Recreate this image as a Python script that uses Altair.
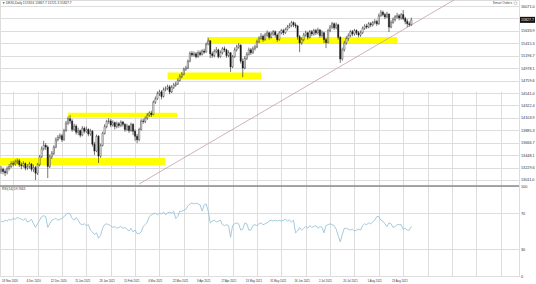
import altair as alt
import pandas as pd

# ---------------- data ----------------
date_labels = ["18 Nov 2020", "4 Dec 2020", "22 Dec 2020", "11 Jan 2021", "28 Jan 2021",
               "15 Feb 2021", "4 Mar 2021", "22 Mar 2021", "9 Apr 2021", "27 Apr 2021",
               "13 May 2021", "31 May 2021", "16 Jun 2021", "2 Jul 2021", "20 Jul 2021",
               "5 Aug 2021", "23 Aug 2021"]

open0 = 13170.0
closes = [
    13200, 13160, 13140, 13210, 13250, 13300, 13290, 13330, 13350, 13280,
    13260, 13300, 13220, 13250, 13290, 13200, 13230, 13130, 13280, 13420,
    13560, 13620, 13590, 13250, 13420, 13480, 13590, 13720, 13760, 13790,
    13720, 13880, 14010, 14090, 14050, 13900, 13960, 13850, 13880, 13800,
    13920, 13870, 13900, 13820, 13870, 13640, 13520, 13780, 13430, 13620,
    13830, 13950, 14040, 14050, 13980, 14020, 13950, 14000, 13970, 14030,
    13990, 13900, 13960, 13880, 13990, 13870, 13780, 13720, 13900, 14050,
    14040, 14100, 14150, 14190, 14160, 14380, 14440, 14530, 14560, 14480,
    14600, 14620, 14650, 14560, 14640, 14680, 14700, 14760, 14830, 14870,
    14960, 14980, 15100, 15240, 15210, 15230, 15180, 15250, 15220, 15280,
    15260, 15400, 15460, 15230, 15200, 15270, 15300, 15180, 15250, 15320,
    15300, 15200, 15250, 15000, 15180, 15300, 15350, 15380, 15100, 14980,
    15150, 15220, 15300, 15250, 15320, 15350, 15440, 15500, 15540, 15480,
    15560, 15600, 15520, 15580, 15620, 15560, 15480, 15600, 15640, 15600,
    15660, 15700, 15730, 15780, 15740, 15720, 15530, 15420, 15480, 15560,
    15600, 15520, 15620, 15580, 15640, 15600, 15650, 15550, 15600, 15480,
    15430, 15640, 15700, 15760, 15690, 15740, 15520, 15140, 15300, 15420,
    15500, 15550, 15620, 15580, 15640, 15600, 15560, 15600, 15680, 15720,
    15700, 15760, 15740, 15780, 15800, 15760, 15900, 15960, 15920, 15880,
    15930, 15700, 15780, 15830, 15880, 15900, 15860, 15920, 15850, 15800,
    15760, 15743.6, 15827.7]
highs = [
    13260, 13230, 13200, 13250, 13290, 13340, 13350, 13370, 13390, 13380,
    13320, 13340, 13320, 13290, 13330, 13310, 13280, 13260, 13310, 13450,
    13600, 13700, 13660, 13620, 13460, 13520, 13620, 13760, 13800, 13830,
    13820, 13910, 14050, 14130, 14150, 14080, 14000, 13990, 13930, 13900,
    13960, 13950, 13950, 13920, 13910, 13890, 13680, 13810, 13800, 13650,
    13860, 13990, 14070, 14100, 14080, 14060, 14040, 14040, 14030, 14060,
    14050, 14010, 14000, 13980, 14020, 14010, 13900, 13820, 13930, 14080,
    14090, 14130, 14190, 14220, 14230, 14410, 14480, 14570, 14600, 14590,
    14640, 14660, 14690, 14680, 14680, 14720, 14740, 14800, 14870, 14910,
    14990, 15020, 15130, 15270, 15280, 15270, 15260, 15290, 15290, 15310,
    15320, 15430, 15510, 15470, 15270, 15310, 15350, 15320, 15290, 15350,
    15360, 15320, 15290, 15260, 15210, 15340, 15390, 15420, 15400, 15150,
    15190, 15260, 15340, 15330, 15360, 15390, 15480, 15540, 15595, 15570,
    15600, 15640, 15620, 15620, 15650, 15640, 15590, 15630, 15670, 15670,
    15690, 15740, 15770, 15810, 15800, 15780, 15740, 15560, 15520, 15600,
    15640, 15620, 15650, 15650, 15670, 15670, 15690, 15670, 15640, 15620,
    15510, 15670, 15740, 15790, 15780, 15780, 15760, 15540, 15340, 15460,
    15540, 15590, 15650, 15650, 15670, 15660, 15630, 15640, 15710, 15750,
    15760, 15790, 15790, 15810, 15840, 15830, 15940, 16000, 15990, 15950,
    15970, 15940, 15820, 15870, 15910, 15950, 15930, 15950, 16000, 15880,
    15840, 15800, 15867.7]
lows = [
    13120, 13110, 13080, 13110, 13180, 13220, 13250, 13260, 13290, 13240,
    13200, 13230, 13180, 13190, 13210, 13160, 13150, 13010, 13100, 13250,
    13400, 13530, 13540, 13045, 13220, 13380, 13450, 13570, 13690, 13730,
    13680, 13700, 13860, 13980, 14000, 13860, 13870, 13810, 13800, 13760,
    13780, 13830, 13840, 13780, 13790, 13600, 13450, 13500, 13310, 13400,
    13600, 13810, 13920, 14000, 13940, 13950, 13900, 13920, 13930, 13940,
    13950, 13860, 13870, 13840, 13860, 13800, 13700, 13660, 13690, 13880,
    14000, 14010, 14070, 14120, 14120, 14150, 14350, 14420, 14490, 14430,
    14460, 14570, 14590, 14520, 14540, 14610, 14650, 14680, 14740, 14800,
    14850, 14930, 14960, 15080, 15180, 15180, 15150, 15160, 15190, 15200,
    15230, 15250, 15380, 15155, 15160, 15170, 15240, 15150, 15160, 15220,
    15260, 15160, 15170, 14910, 14980, 15160, 15270, 15320, 15060, 14820,
    14960, 15120, 15200, 15210, 15230, 15290, 15330, 15420, 15480, 15440,
    15460, 15530, 15480, 15500, 15550, 15520, 15440, 15460, 15570, 15560,
    15580, 15640, 15680, 15700, 15700, 15680, 15480, 15260, 15390, 15450,
    15530, 15480, 15500, 15540, 15550, 15560, 15570, 15510, 15520, 15420,
    15330, 15410, 15610, 15670, 15650, 15660, 15480, 15070, 15110, 15270,
    15390, 15460, 15520, 15540, 15550, 15560, 15520, 15530, 15580, 15650,
    15670, 15680, 15700, 15710, 15750, 15720, 15740, 15880, 15890, 15840,
    15860, 15615, 15680, 15760, 15800, 15850, 15820, 15830, 15820, 15750,
    15700, 15710, 15721.3]
rsi = [
    61, 60, 62, 61, 63, 62, 64, 63, 65, 64,
    63, 62, 64, 60, 61, 63, 58, 54, 58, 62,
    66, 67, 66, 54, 58, 62, 63, 64, 62, 63,
    64, 66, 68, 70, 69, 64, 62, 65, 62, 58,
    57, 58, 56, 57, 51, 49, 46, 48, 42, 45,
    53, 57, 58, 57, 56, 54, 55, 53, 54, 55,
    53, 54, 52, 50, 53, 49, 51, 47, 47, 49,
    55, 57, 60, 66, 68, 69, 70, 68, 70, 69,
    71, 68, 70, 71, 70, 72, 64, 66, 72, 72,
    73, 74, 78, 80, 81, 80, 81, 80, 79, 72,
    79, 80, 72, 59, 61, 62, 60, 61, 62, 57,
    56, 57, 56, 43, 56, 58, 59, 58, 51, 52,
    59, 58, 51, 51, 56, 57, 56, 58, 59, 57,
    58, 59, 61, 62, 61, 62, 61, 62, 61, 62,
    63, 61, 62, 60, 62, 48, 50, 54, 51, 53,
    55, 53, 56, 54, 55, 56, 53, 55, 54, 48,
    56, 57, 58, 57, 56, 52, 45, 38, 46, 53,
    53, 52, 51, 52, 50, 51, 52, 51, 56, 58,
    57, 59, 58, 60, 62, 66, 66, 62, 61, 58,
    55, 59, 58, 54, 55, 57, 57, 57, 52, 53,
    51, 51, 55]

price_ticks = [13011.0, 13229.6, 13448.1, 13666.7, 13885.3, 14103.9, 14322.4, 14541.0,
               14759.6, 14978.1, 15196.7, 15415.3, 15633.9, 15852.4, 16071.0]
rsi_ticks = [0, 30, 70, 100]
grid_bars = [6, 18, 30, 42, 54, 66, 78, 90, 102, 114, 126, 138, 150, 162, 174, 186,
             198, 210, 222, 234, 246]

band_start = [-0.5, 33, 82, 101.5]
band_end = [80.8, 86.7, 128, 195]
band_low = [13275, 14115, 14780, 15420]
band_high = [13400, 14195, 14900, 15525]

trend_bars = [68, 223]
trend_prices = [12941, 16177]

title_text = "\u25bc DE30,Daily  15743.6 15867.7 15721.3 15827.7"
rsi_text = "RSI(14) 59.7663"

# ---------------- frames ----------------
n = len(closes)
opens = [open0] + closes[:-1]
candles = pd.DataFrame({"bar": list(range(n)), "open": opens, "high": highs,
                        "low": lows, "close": closes, "rsi": rsi})
bands = pd.DataFrame({"x0": band_start, "x1": band_end, "lo": band_low, "hi": band_high})
trend = pd.DataFrame({"bar": trend_bars, "price": trend_prices})
last = pd.DataFrame({"close": [closes[-1]], "label": [f"{closes[-1]:.1f}"]})
one = pd.DataFrame({"a": [0]})

FONT = "Liberation Sans"
W, H_MAIN, H_ALL = 519, 185, 276
xs = alt.Scale(domain=[-0.5, 255], nice=False, zero=False, padding=0)
ys = alt.Scale(domain=[12923, 16177], range=[H_MAIN, 0], nice=False, zero=False, padding=0)
rs = alt.Scale(domain=[0, 100], range=[H_ALL, H_MAIN + 1], nice=False, zero=False, padding=0)

arr = "[" + ",".join("'" + d + "'" for d in date_labels) + "]"
x_axis = alt.Axis(values=grid_bars, title=None, ticks=False, domain=False, grid=True,
                  labelFontSize=2.8, labelColor="#333", labelFont=FONT,
                  labelAlign="left", labelOffset=-11.7, labelPadding=3,
                  labelFlush=False, labelOverlap=False, labelBound=False,
                  labelExpr=arr + "[round((datum.value - 6) / 12)] || ''")
y_main_axis = alt.Axis(orient="right", values=price_ticks, title=None, ticks=False,
                       domain=False, grid=True, labelFontSize=3.8, labelPadding=1.5,
                       labelColor="#333", labelFont=FONT, labelOverlap=False,
                       labelExpr="datum.value > 15800 && datum.value < 15900 ? '' : format(datum.value, '.1f')")
y_rsi_axis = alt.Axis(orient="right", values=rsi_ticks, title=None, ticks=False,
                      domain=False, grid=True, labelFontSize=3.8, labelPadding=1.5,
                      labelColor="#333", labelFont=FONT, format="d", labelOverlap=False)

X = lambda f: alt.X(f, scale=xs, axis=x_axis)
Y = lambda f: alt.Y(f, scale=ys, axis=y_main_axis)

band_layer = alt.Chart(bands).mark_rect(color="#ffff00").encode(
    x=X("x0:Q"), x2="x1:Q", y=Y("lo:Q"), y2="hi:Q")

trend_layer = alt.Chart(trend).mark_line(color="#c4a0a0", strokeWidth=0.8, clip=True).encode(
    x=X("bar:Q"), y=Y("price:Q"))

wick_layer = alt.Chart(candles).mark_rule(color="#1a1a1a", strokeWidth=0.6).encode(
    x=X("bar:Q"), y=Y("low:Q"), y2="high:Q")

body_layer = alt.Chart(candles).mark_bar(width=1.3, stroke="#1a1a1a", strokeWidth=0.4).encode(
    x=X("bar:Q"), y=Y("open:Q"), y2="close:Q",
    color=alt.condition("datum.close >= datum.open", alt.value("white"), alt.value("#1a1a1a")))

box_layer = alt.Chart(last).mark_point(
    shape="M-1.25,-0.5L1.25,-0.5L1.25,0.5L-1.25,0.5Z", size=144, filled=True,
    color="#111", opacity=1).encode(x=alt.value(527.5), y=Y("close:Q"))
box_text = alt.Chart(last).mark_text(fontSize=3.6, font=FONT, color="white",
                                     baseline="middle").encode(
    x=alt.value(527.5), y=Y("close:Q"), text="label:N")

price_group = alt.layer(band_layer, trend_layer, wick_layer, body_layer, box_layer, box_text)

sep_layer = alt.Chart(one).mark_rule(color="#8a8a8a", strokeWidth=1.6).encode(
    y=alt.Y(datum=100, scale=rs, axis=y_rsi_axis))
rsi_line = alt.Chart(candles).mark_line(color="#8fbcd6", strokeWidth=0.8).encode(
    x=X("bar:Q"), y=alt.Y("rsi:Q", scale=rs, axis=y_rsi_axis))
rsi_group = alt.layer(rsi_line, sep_layer)

title_layer = alt.Chart(one).mark_text(align="left", baseline="middle", fontSize=3.2,
                                       font=FONT, color="#333").encode(
    x=alt.value(2), y=alt.value(3.2), text=alt.value(title_text))
rsi_title = alt.Chart(one).mark_text(align="left", baseline="middle", fontSize=3.2,
                                     font=FONT, color="#333").encode(
    x=alt.value(2), y=alt.value(H_MAIN + 4), text=alt.value(rsi_text))
smart_layer = alt.Chart(one).mark_text(align="right", baseline="middle", fontSize=3.2,
                                       font=FONT, color="#444").encode(
    x=alt.value(512), y=alt.value(3.2), text=alt.value("Smart Orders"))
smart_icon = alt.Chart(one).mark_point(size=9, color="#777", strokeWidth=0.5).encode(
    x=alt.value(515.5), y=alt.value(3.2))
text_group = alt.layer(title_layer, rsi_title, smart_layer, smart_icon)

chart = alt.layer(price_group, rsi_group, text_group).resolve_scale(
    y="independent").resolve_axis(y="independent").properties(
    width=W, height=H_ALL,
    autosize=alt.AutoSizeParams(type="none"),
    padding={"left": 0, "top": 0, "right": 17, "bottom": 8}
).configure_view(stroke="#9a9a9a", strokeWidth=1).configure_axis(
    gridColor="#e6e6e6", gridWidth=0.6
).configure(background="white")

chart.save("out.html", embed_options={"renderer": "svg", "actions": False})
